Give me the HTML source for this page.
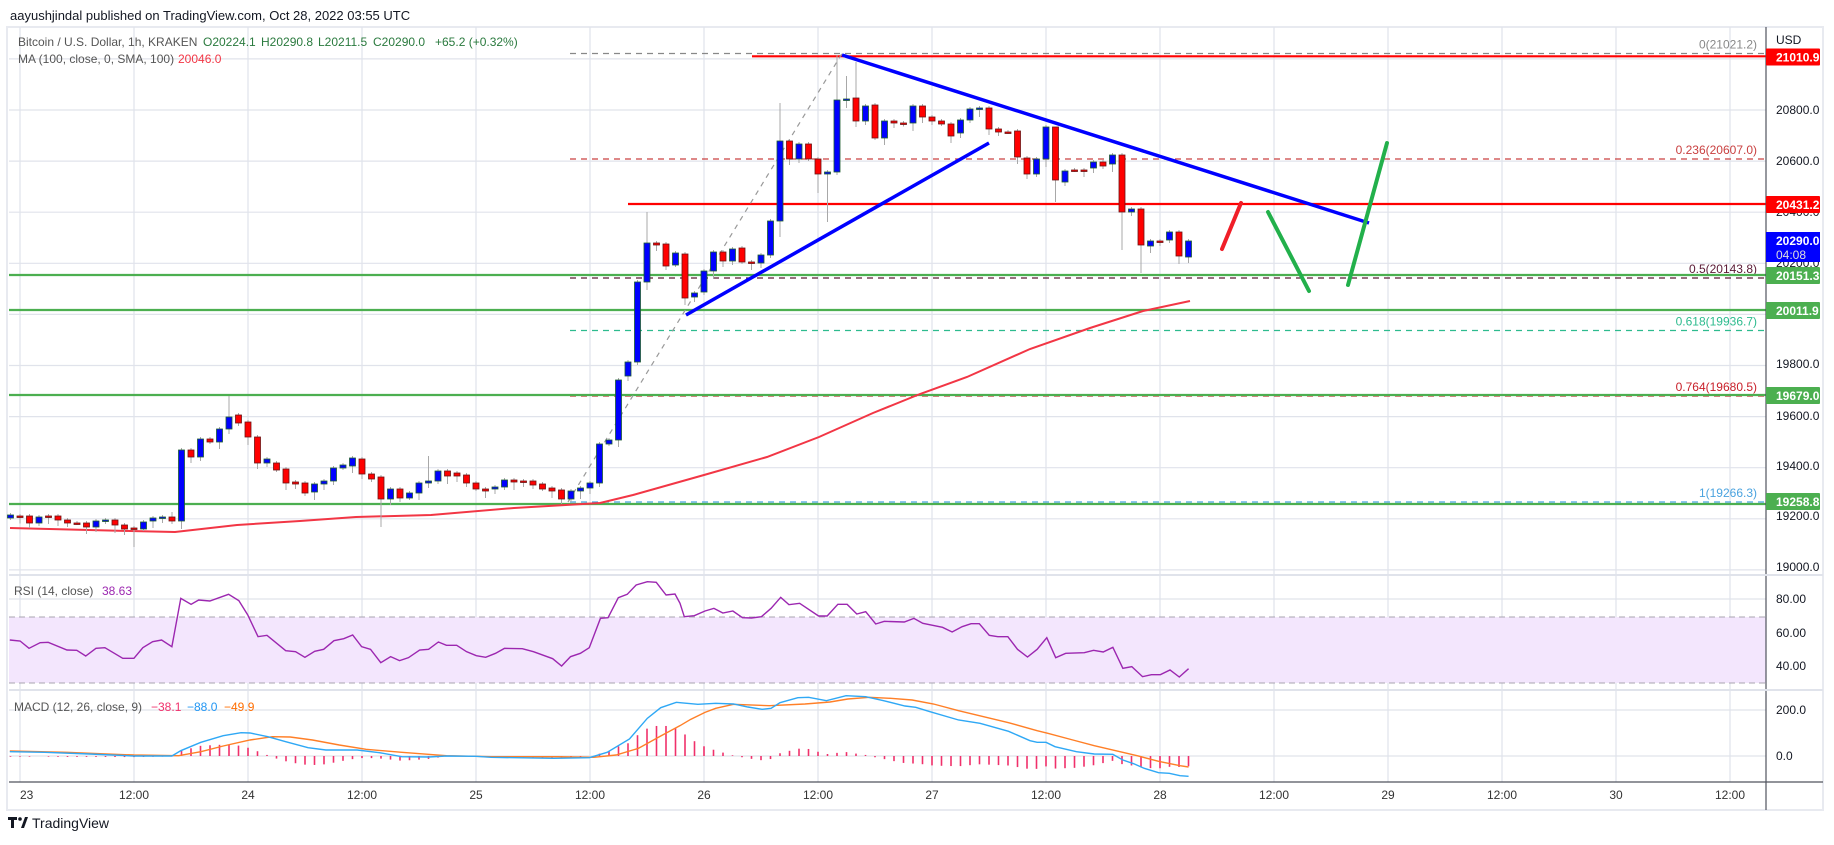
<!DOCTYPE html>
<html><head><meta charset="utf-8"><style>
html,body{margin:0;padding:0;background:#fff;}
svg{display:block;font-family:"Liberation Sans",sans-serif;}
</style></head><body>
<svg id="s" width="1834" height="845" viewBox="0 0 1834 845" xmlns="http://www.w3.org/2000/svg">
<rect width="1834" height="845" fill="#fff"/>
<text x="10" y="20" font-size="13" fill="#131722">aayushjindal published on TradingView.com, Oct 28, 2022 03:55 UTC</text>
<rect x="7" y="27" width="1816" height="783" fill="#fff" stroke="#e8eaf0" stroke-width="2"/>
<g id="grid"></g>
<rect x="9" y="617" width="1757" height="66" fill="#f3e6fd"/>
<line x1="9" y1="617" x2="1766" y2="617" stroke="#a8a4b0" stroke-dasharray="6,4"/>
<line x1="9" y1="683" x2="1766" y2="683" stroke="#a8a4b0" stroke-dasharray="6,4"/>
<g id="main"></g>
<line x1="1766" y1="27" x2="1766" y2="810" stroke="#50535e" stroke-width="1.2"/>
<line x1="9" y1="782" x2="1823" y2="782" stroke="#50535e" stroke-width="1.2"/>
<line x1="9" y1="575" x2="1823" y2="575" stroke="#e0e3eb" stroke-width="2"/>
<line x1="9" y1="690" x2="1823" y2="690" stroke="#e0e3eb" stroke-width="2"/>
<g id="axis" font-size="12" fill="#131722"></g>
<g font-size="12">
<text x="18" y="46" fill="#555">Bitcoin / U.S. Dollar, 1h, KRAKEN</text>
<text x="203" y="46" fill="#2a7a3e">O20224.1</text>
<text x="261" y="46" fill="#2a7a3e">H20290.8</text>
<text x="318" y="46" fill="#2a7a3e">L20211.5</text>
<text x="373" y="46" fill="#2a7a3e">C20290.0</text>
<text x="435" y="46" fill="#2a7a3e">+65.2 (+0.32%)</text>
<text x="18" y="63" fill="#555">MA (100, close, 0, SMA, 100)</text>
<text x="178" y="63" fill="#f23645">20046.0</text>
<text x="14" y="595" fill="#555">RSI (14, close)</text>
<text x="102" y="595" fill="#9c27b0">38.63</text>
<text x="14" y="711" fill="#555">MACD (12, 26, close, 9)</text>
<text x="151" y="711" fill="#f0306b">−38.1</text>
<text x="187" y="711" fill="#2196f3">−88.0</text>
<text x="224" y="711" fill="#ff6d00">−49.9</text>
</g>
<g>
<rect x="8" y="817" width="9" height="3" fill="#131722"/><rect x="11" y="817" width="3" height="11" fill="#131722"/>
<circle cx="20" cy="819" r="1.8" fill="#131722"/><polygon points="21,828 25,817 28,817 24,828" fill="#131722"/>
<text x="32" y="828" font-size="14" fill="#131722">TradingView</text>
</g>
</svg>
<script>
const NS="http://www.w3.org/2000/svg";
function el(p,t,a,txt){const e=document.createElementNS(NS,t);for(const k in a)e.setAttribute(k,a[k]);if(txt!==undefined)e.textContent=txt;p.appendChild(e);return e;}
const G=document.getElementById('grid'),M=document.getElementById('main'),A=document.getElementById('axis');
const py=p=>110+(20800-p)*0.2555;
// grid
for(let i=0;i<16;i++){const x=20+114*i;el(G,'line',{x1:x,y1:27,x2:x,y2:782,stroke:'#e0e3eb','stroke-width':1.2});}
for(let p=19000;p<=21000;p+=200){el(G,'line',{x1:9,y1:py(p),x2:1766,y2:py(p),stroke:'#e0e3eb','stroke-width':1.2});}
[599,633,666,710,756].forEach(y=>el(G,'line',{x1:9,y1:y,x2:1766,y2:y,stroke:'#e0e3eb','stroke-width':1.2}));
// fib lines
const fib=[[53.5,'#888','0(21021.2)'],[159,'#c94040','0.236(20607.0)'],[278,'#5a1a35','0.5(20143.8)'],[330.5,'#2dbb8e','0.618(19936.7)'],[396,'#c8202a','0.764(19680.5)'],[502,'#4aa3df','1(19266.3)']];
fib.forEach(f=>{el(M,'line',{x1:570,y1:f[0],x2:1766,y2:f[0],stroke:f[1],'stroke-dasharray':'6,5','stroke-width':1.2});el(M,'text',{x:1757,y:f[0]-5,'font-size':12,fill:f[1],'text-anchor':'end'},f[2]);});
// green lines
[275,310,395,504].forEach(y=>el(M,'line',{x1:9,y1:y,x2:1766,y2:y,stroke:'#4caf50','stroke-width':2.2}));
el(M,'line',{x1:752,y1:56.3,x2:1766,y2:56.3,stroke:'#ff0000','stroke-width':2.2});
el(M,'line',{x1:628,y1:204,x2:1766,y2:204,stroke:'#ff0000','stroke-width':2.2});
// fib diagonal
el(M,'line',{x1:568,y1:502,x2:842,y2:53.5,stroke:'#999','stroke-dasharray':'5,5','stroke-width':1.2});
// MA
const ma=[[10,528],[130,531],[175,532],[237,525],[300,521],[356,517],[431,515],[514,508],[600,503],[633,495],[704,475],[767,457],[819,437],[873,413],[920,394],[967,377],[1030,349],[1090,328],[1143,311],[1190,301]];
el(M,'polyline',{points:ma.map(p=>p.join(',')).join(' '),fill:'none',stroke:'#f23645','stroke-width':2});
// candles
const C=[[518,515],[516,516.5],[516,523],[523,517],[516,516],[516,520],[520,523],[523,523],[523,527],[527,521],[521,520],[520,525],[525,529],[528,528],[529,522],[521,518],[518,517],[517,521],[521,450],[450,457],[457,439],[439,442],[442,429],[429,417],[415,423],[422,437],[437,463],[463,459],[463,470],[469,483],[482,484],[483,493],[492,484],[484,481],[481,468],[468,465],[466,458],[459,474],[474,479],[477,499],[499,489],[489,498],[498,493],[493,483],[483,481],[481,471],[471,476],[473,476],[475,483],[483,489],[489,491],[489,487],[487,480],[480,482],[481,481],[481,485],[484,489],[488,491],[490,499],[499,491],[491,488],[488,483],[483,444],[444,440],[440,380],[376,362],[362,282],[282,243],[243,245],[244,266],[265,253],[254,298],[297,293],[292,271],[271,252],[252,261],[261,249],[248,262],[262,263],[263,255],[255,221],[221,141],[141,159],[159,144],[144,159],[159,174],[174,172],[172,100],[100,99],[98,121],[121,106],[105,138],[138,121],[121,123],[123,123.5],[123,106],[106,117],[117,121],[121,124],[124,136],[133,120],[120,109],[109,108],[108,129],[129,132],[132,132],[131,157],[158,174],[174,159],[159,127],[127,180],[182,171],[170,170],[170,170],[168,162],[162,166],[164,155],[155,212],[212,209],[209,245],[246,241],[241,241],[240,232],[232,256],[257,241]];
const H={23:396,44:456,67:212,81:103,87:55,88:76,89:62,110:127,17:512},L={13:547,39:527,81:237,85:193,86:222,119:273,117:250,110:202,71:305};
C.forEach((c,i)=>{const x=10.5+9.5*i;const o=c[0],cl=c[1];const top=Math.min(o,cl),bot=Math.max(o,cl);
const h=H[i]!==undefined?H[i]:top-(2+(i*7)%7);const l=L[i]!==undefined?L[i]:bot+(2+(i*5)%7);
el(M,'line',{x1:x,y1:h,x2:x,y2:l,stroke:'#a8a8a8','stroke-width':1});
const up=cl<o;const hh=Math.max(bot-top,1.5);
el(M,'rect',{x:x-3,y:top,width:6,height:hh,fill:up?'#0000ff':'#ff0000',stroke:up?'#1f5e2e':'#6b1414','stroke-width':0.8});});
// trend lines
el(M,'line',{x1:842,y1:55,x2:1369,y2:223,stroke:'#0000ff','stroke-width':3.5});
el(M,'line',{x1:686,y1:315,x2:989,y2:143,stroke:'#0000ff','stroke-width':3.5});
el(M,'line',{x1:1222,y1:249,x2:1241,y2:203,stroke:'#f01e28','stroke-width':4,'stroke-linecap':'round'});
el(M,'line',{x1:1268,y1:212,x2:1309,y2:291,stroke:'#22b04b','stroke-width':4,'stroke-linecap':'round'});
el(M,'line',{x1:1348,y1:285,x2:1387,y2:143,stroke:'#22b04b','stroke-width':4,'stroke-linecap':'round'});
// RSI
const r3=[[22,240],[45,243],[65,265],[90,248],[108,247],[150,270],[172,271],[192,288],[215,265],[235,263],[275,295],[300,295],[320,263],[342,245],[362,240],[385,260],[405,115],[428,133],[445,120],[470,123],[512,103],[535,122],[555,165],[578,230],[598,226],[640,272],[662,275],[683,292],[705,274],[725,268],[748,242],[770,236],[790,225],[810,260],[830,268],[853,308],[875,290],[895,302],[915,293],[940,270],[960,268],[982,246],[1000,256],[1023,256],[1045,275],[1067,287],[1088,292],[1110,280],[1130,265],[1170,266],[1195,275],[1238,296],[1258,318],[1278,290],[1300,280],[1320,263],[1345,175],[1362,173],[1385,113],[1405,103],[1425,75],[1450,65],[1470,67],[1492,105],[1512,102],[1535,172]].map(p=>[p[0]/2.24,560+p[1]/3]);
const r9=[[0,70],[12,110],[40,107],[70,93],[95,85],[120,99],[148,93],[175,113],[200,114],[228,110],[255,85],[282,52],[305,74],[335,70],[388,108],[412,108],[442,73],[468,73],[495,102],[520,95],[548,132],[572,124],[628,126],[655,115],[680,130],[735,142],[762,156],[790,140],[815,131],[838,131],[866,166],[890,170],[918,170],[945,208],[973,231],[1000,208],[1027,173],[1052,233],[1080,220],[1132,218],[1158,211],[1185,216],[1212,202],[1240,265],[1265,260],[1295,290],[1320,284],[1345,284],[1372,270],[1398,291],[1424,266]].map(p=>[680+p[0]/2.8,580+p[1]/3]);
const rsi=r3.filter(p=>p[0]<680).concat(r9);
el(M,'polyline',{points:rsi.map(p=>p.join(',')).join(' '),fill:'none',stroke:'#9c27b0','stroke-width':1.4});
// MACD
const b3=[[22,575],[100,577],[200,582],[300,588],[385,588],[405,572],[450,547],[500,527],[540,518],[560,519],[600,530],[640,545],[690,563],[730,570],[800,570],[850,578],[900,590],[960,591],[1000,588],[1067,589],[1100,592],[1240,595],[1320,593],[1360,577],[1410,537],[1450,475],[1480,443],[1515,427]].map(p=>[p[0]/2.24,560+p[1]/3]);
const b9=[[0,368],[50,373],[100,370],[150,372],[190,381],[230,388],[255,385],[280,368],[330,353],[360,352],[410,362],[465,347],[520,350],[570,362],[630,378],[660,382],[700,395],[780,420],[840,430],[920,454],[980,482],[1000,487],[1025,487],[1050,500],[1110,515],[1160,522],[1212,523],[1240,540],[1270,551],[1300,565],[1340,578],[1370,580],[1400,587],[1424,589]].map(p=>[680+p[0]/2.8,580+p[1]/3]);
const o3=[[22,573],[150,577],[300,585],[400,587],[450,575],[500,558],[560,540],[610,530],[650,531],[700,540],[760,555],[820,568],[900,577],[1000,587],[1100,590],[1250,590],[1330,592],[1380,585],[1430,565],[1480,528],[1530,487]].map(p=>[p[0]/2.24,560+p[1]/3]);
const o9=[[0,437],[30,418],[70,397],[100,385],[150,373],[250,377],[350,372],[420,366],[470,357],[530,352],[590,355],[650,360],[710,372],[780,392],[850,410],[920,428],[1000,452],[1030,460],[1100,480],[1160,497],[1220,512],[1280,527],[1340,544],[1400,557],[1424,561]].map(p=>[680+p[0]/2.8,580+p[1]/3]);
const bl=b3.filter(p=>p[0]<680).concat(b9), or=o3.filter(p=>p[0]<680).concat(o9);
function interp(a,x){if(x<=a[0][0])return a[0][1];for(let i=1;i<a.length;i++){if(x<=a[i][0]){const t=(x-a[i-1][0])/(a[i][0]-a[i-1][0]);return a[i-1][1]+t*(a[i][1]-a[i-1][1]);}}return a[a.length-1][1];}
for(let i=0;i<C.length;i++){const x=10.5+9.5*i;const d=(interp(or,x)-interp(bl,x))*1.1;if(Math.abs(d)<0.6)continue;el(M,'line',{x1:x,y1:756,x2:x,y2:756-d,stroke:'#f0306b','stroke-width':1.6});}
el(M,'polyline',{points:or.map(p=>p.join(',')).join(' '),fill:'none',stroke:'#ff7f27','stroke-width':1.4});
el(M,'polyline',{points:bl.map(p=>p.join(',')).join(' '),fill:'none',stroke:'#2fa8f5','stroke-width':1.4});
// axis labels
el(A,'text',{x:1776,y:44},'USD');
[[20800,110],[20600,161],[20400,212],[20200,263],[19800,364],[19600,416],[19400,466],[19200,516],[19000,567]].forEach(a=>el(A,'text',{x:1776,y:a[1]+4},a[0].toFixed(1)));
[['80.00',599],['60.00',633],['40.00',666],['200.0',710],['0.0',756]].forEach(a=>el(A,'text',{x:1776,y:a[1]+4},a[0]));
const boxes=[[57,'#ff0000','21010.9'],[204.5,'#ff0000','20431.2'],[275.5,'#4caf50','20151.3'],[310.5,'#4caf50','20011.9'],[395.5,'#4caf50','19679.0'],[501.5,'#4caf50','19258.8']];
boxes.forEach(b=>{el(A,'rect',{x:1766,y:b[0]-8.5,width:54,height:17,fill:b[1],rx:1});el(A,'text',{x:1776,y:b[0]+4.5,fill:'#fff','font-weight':'bold'},b[2]);});
el(A,'rect',{x:1766,y:232,width:54,height:30,fill:'#0000ff'});
el(A,'text',{x:1776,y:245,fill:'#fff','font-weight':'bold'},'20290.0');
el(A,'text',{x:1776,y:259,fill:'#ddd'},'04:08');
const tl=['23','12:00','24','12:00','25','12:00','26','12:00','27','12:00','28','12:00','29','12:00','30','12:00'];
tl.forEach((t,i)=>el(A,'text',{x:20+114*i,y:799,'text-anchor':i==0?'start':'middle',fill:'#333'},t));
</script>
</body></html>
